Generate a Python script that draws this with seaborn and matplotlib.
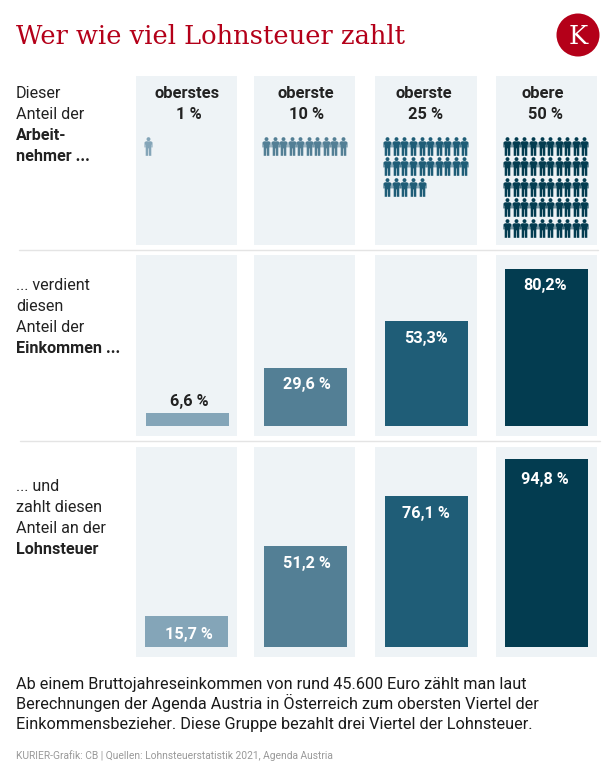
import pandas as pd
import matplotlib
matplotlib.use('Agg')
import matplotlib.pyplot as plt
from matplotlib.path import Path
from matplotlib.patches import Circle
import seaborn as sns

# Data
head_line1 = ['oberstes', 'oberste', 'oberste', 'obere']
head_line2 = ['1 %', '10 %', '25 %', '50 %']
people = [1, 10, 25, 50]
income = [6.6, 29.6, 53.3, 80.2]
income_labels = ['6,6 %', '29,6 %', '53,3%', '80,2%']
tax = [15.7, 51.2, 76.1, 94.8]
tax_labels = ['15,7 %', '51,2 %', '76,1 %', '94,8 %']
colors = ['#84a5b8', '#537f95', '#1f5d77', '#033c50']

W, H = 616, 774
PANEL = '#eef3f6'
DARK = '#222222'
panel_x = [(136, 237), (254, 355), (375, 477), (496, 597)]
label_x = [189, 307, 426, 545]
head_x = [187, 306, 424, 543]

sns.set_theme(style='white')
plt.rcParams['font.family'] = ['Roboto', 'DejaVu Sans']

fig = plt.figure(figsize=(W / 100, H / 100), dpi=100, facecolor='white')


def px_axes(x0, y0, x1, y1):
    ax = fig.add_axes([x0 / W, 1 - y1 / H, (x1 - x0) / W, (y1 - y0) / H])
    ax.set_facecolor(PANEL)
    for s in ax.spines.values():
        s.set_visible(False)
    return ax


def clean(ax):
    ax.set_xticks([])
    ax.set_yticks([])
    ax.set_xlabel('')
    ax.set_ylabel('')


# person icon for the top row
body = [(-0.28, 0.56), (0.28, 0.56), (0.43, 0.44), (0.43, -0.1), (0.33, -0.1), (0.33, 0.2),
        (0.3, 0.2), (0.3, -1), (0.04, -1), (0.03, -0.2), (-0.03, -0.2), (-0.04, -1),
        (-0.3, -1), (-0.3, 0.2), (-0.33, 0.2), (-0.33, -0.1), (-0.43, -0.1), (-0.43, 0.44),
        (-0.28, 0.56)]
head = Path.circle((0, 0.79), 0.21)
person = Path.make_compound_path(head, Path(body, closed=True))

# Top row, pictograms
first_x = [11.7, 12, 12.3, 11.3]
for i, (x0, x1) in enumerate(panel_x):
    ax = px_axes(x0, 76, x1, 245)
    rows = [divmod(n, 10) for n in range(people[i])]
    df = pd.DataFrame({'col': [first_x[i] + c * 8.55 for r, c in rows],
                       'row': [69.5 + r * 20.6 for r, c in rows]})
    sns.scatterplot(data=df, x='col', y='row', marker=person, s=180, color=colors[i],
                    linewidth=0, ax=ax, legend=False, clip_on=False)
    ax.set_xlim(0, x1 - x0)
    ax.set_ylim(169, 0)
    clean(ax)


# Bar rows
def bar_row(values, y0, y1, base, scale, lefts):
    for i, (x0, x1) in enumerate(panel_x):
        ax = px_axes(x0, y0, x1, y1)
        df = pd.DataFrame({'cat': [head_line2[i]], 'val': [values[i]]})
        sns.barplot(data=df, x='cat', y='val', color=colors[i], saturation=1, width=0.8,
                    linewidth=0, ax=ax)
        bar_w = 83
        unit = 0.8 / bar_w
        left = lefts[i] - x0
        right = (x1 - x0) - left - bar_w
        ax.set_xlim(-0.4 - left * unit, 0.4 + right * unit)
        ax.set_ylim(-(y1 - base) / scale, (base - y0) / scale)
        clean(ax)


bar_row(income, 255, 436, 425.7, 1.955, [146.3, 263.7, 384.7, 505])
bar_row(tax, 447, 657, 646.7, 1.975, [145, 263.7, 384.7, 505])

# Overlay in pixel coordinates for all text
ov = fig.add_axes([0, 0, 1, 1], zorder=10)
ov.set_xlim(0, W)
ov.set_ylim(H, 0)
ov.axis('off')
ov.patch.set_alpha(0)

ov.plot([19, 598], [250, 250], color='#e4e4e4', lw=1)
ov.plot([20, 600], [441, 441], color='#e4e4e4', lw=1)

ov.text(16, 44, 'Wer wie viel Lohnsteuer zahlt', color='#b40019', fontsize=18.5,
        family='DejaVu Serif', va='baseline')
ov.add_patch(Circle((578, 35), 21.5, color='#b40019', lw=0))
ov.text(578, 44, 'K', color='white', fontsize=18.5, family='DejaVu Serif', ha='center', va='baseline')

side = [('Dieser', 98, False), ('Anteil der', 119, False), ('Arbeit-', 140, True), ('nehmer ...', 161, True),
        ('... verdient', 290, False), ('diesen', 311, False), ('Anteil der', 332, False), ('Einkommen ...', 353, True),
        ('... und', 491, False), ('zahlt diesen', 512, False), ('Anteil an der', 533, False), ('Lohnsteuer', 554, True)]
for txt, y, bold in side:
    ov.text(16, y, txt, fontsize=11.6, color=DARK, va='baseline', fontweight='bold' if bold else 'normal')

for i in range(4):
    ov.text(head_x[i], 98, head_line1[i], fontsize=11.9, color=DARK, ha='center', va='baseline', fontweight='bold')
    ov.text(label_x[i], 119, head_line2[i], fontsize=11.9, color=DARK, ha='center', va='baseline', fontweight='bold')

income_y = [405.7, 388.7, 343, 290]
tax_y = [639.3, 567.7, 518, 484]
for i in range(4):
    c = DARK if i == 0 else 'white'
    ov.text(label_x[i], income_y[i], income_labels[i], fontsize=11.7, color=c, ha='center', va='baseline', fontweight='bold')
    ov.text(label_x[i], tax_y[i], tax_labels[i], fontsize=11.7, color='white', ha='center', va='baseline', fontweight='bold')

note = ['Ab einem Bruttojahreseinkommen von rund 45.600 Euro zählt man laut',
        'Berechnungen der Agenda Austria in Österreich zum obersten Viertel der',
        'Einkommensbezieher. Diese Gruppe bezahlt drei Viertel der Lohnsteuer.']
for line, y in zip(note, [689, 709, 729]):
    ov.text(16, y, line, fontsize=11.7, color='#1a1a1a', va='baseline')
ov.text(16, 759, 'KURIER-Grafik: CB | Quellen: Lohnsteuerstatistik 2021, Agenda Austria', fontsize=7.4,
        color='#999999', va='baseline')

fig.savefig('out.png', dpi=100)
